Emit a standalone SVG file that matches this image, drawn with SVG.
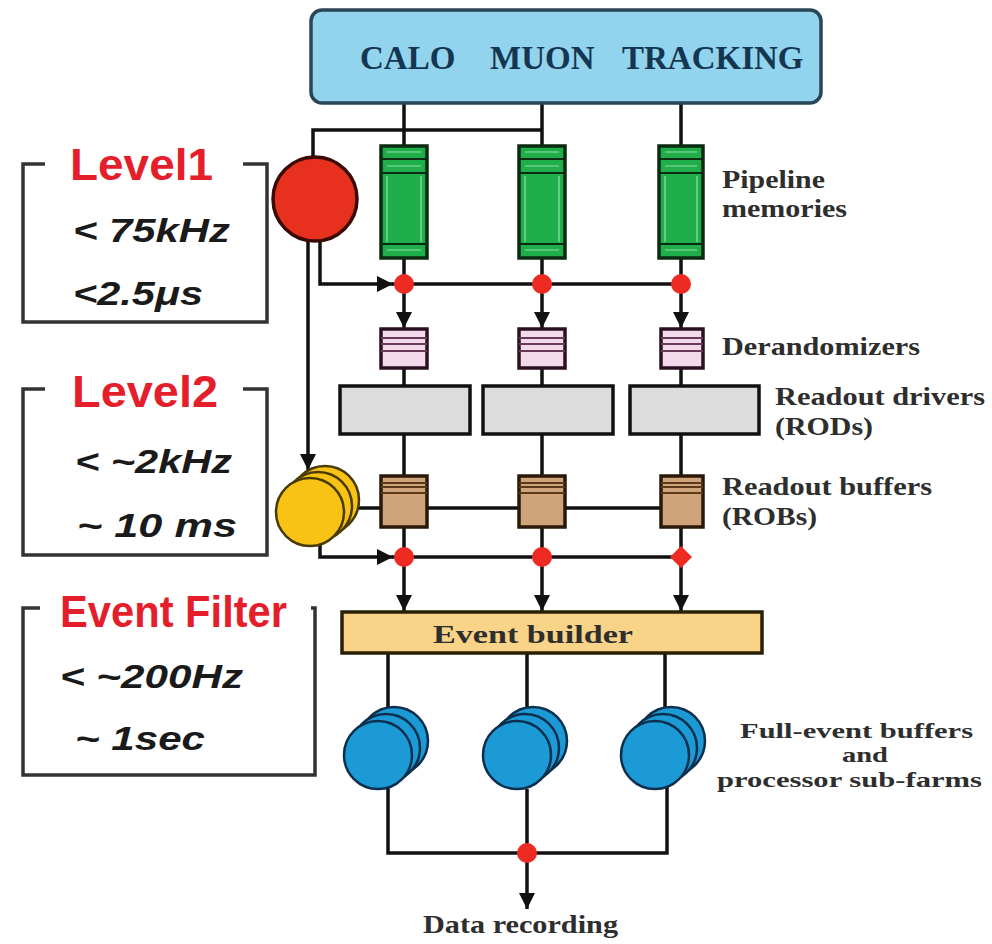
<svg xmlns="http://www.w3.org/2000/svg" width="992" height="944" viewBox="0 0 992 944">
  <style>
    .wire { fill: none; stroke: #111; stroke-width: 3.5; }
    .frame { fill: none; stroke: #333; stroke-width: 3.5; }
    .lbl { font-family: "Liberation Serif", "Times New Roman", serif; font-weight: bold; fill: #2e2e2e; font-size: 26px; }
    .lbl-sm { font-size: 22px; }
    .ttl { font-family: "Liberation Sans", Arial, sans-serif; font-weight: bold; fill: #e41f2b; font-size: 44px; }
    .val { font-family: "Liberation Sans", Arial, sans-serif; font-weight: bold; font-style: italic; fill: #1a1a1a; font-size: 34px; }
    .dot { fill: #ee2b22; }
    .pipe { fill: #1fae4a; stroke: #0b2a12; stroke-width: 3.5; }
    .pipe-line { stroke: #0b2a12; stroke-width: 2; }
    .pipe-hl { stroke: #8fe0a6; stroke-width: 1.2; }
    .derand { fill: #f3d9ea; stroke: #2a1020; stroke-width: 3.5; }
    .derand-line { stroke: #6a3a5a; stroke-width: 2; }
    .rod { fill: #dcdcdc; stroke: #111; stroke-width: 3.5; }
    .rob { fill: #cfa47a; stroke: #2a1808; stroke-width: 3.5; }
    .rob-line { stroke: #5a3a1a; stroke-width: 2; }
    .disc-y { fill: #f8c315; stroke: #4a3a00; stroke-width: 2.5; }
    .disc-b { fill: #1b9ad6; stroke: #0c2f4d; stroke-width: 2.5; }
  </style>
  <defs>
    <marker id="arr" viewBox="0 0 10 10" refX="10" refY="5" markerWidth="18" markerHeight="16" markerUnits="userSpaceOnUse" orient="auto">
      <path d="M0,0 L10,5 L0,10 z" fill="#111"/>
    </marker>
  </defs>

  <rect width="992" height="944" fill="#ffffff"/>

  <!-- connectors -->
  <g id="connectors">
    <!-- detector to pipelines -->
    <path class="wire" d="M404,103 V146 M542,103 V146 M681,103 V146"/>
    <path class="wire" d="M313,157 V130 H542"/>
    <!-- pipelines to level-1 accept bus -->
    <path class="wire" d="M404,258 V284 M542,258 V284 M681,258 V284"/>
    <path class="wire" d="M392,284 H681"/>
    <path class="wire" d="M320,240 V284 H393" marker-end="url(#arr)"/>
    <!-- level-1 to level-2 -->
    <path class="wire" d="M308,241 V470" marker-end="url(#arr)"/>
    <!-- accept bus to derandomizers -->
    <path class="wire" d="M404,292 V328" marker-end="url(#arr)"/>
    <path class="wire" d="M542,292 V328" marker-end="url(#arr)"/>
    <path class="wire" d="M681,292 V328" marker-end="url(#arr)"/>
    <!-- derandomizers to RODs to ROBs -->
    <path class="wire" d="M404,368 V386 M542,368 V386 M681,368 V386"/>
    <path class="wire" d="M404,434 V476 M542,434 V476 M681,434 V476"/>
    <!-- level-2 request bus -->
    <path class="wire" d="M350,508 H681"/>
    <!-- ROBs to level-2 accept bus -->
    <path class="wire" d="M404,527 V557 M542,527 V557 M681,527 V557"/>
    <path class="wire" d="M392,557 H681"/>
    <path class="wire" d="M320,545 V557 H393" marker-end="url(#arr)"/>
    <!-- accept bus to event builder -->
    <path class="wire" d="M404,565 V611" marker-end="url(#arr)"/>
    <path class="wire" d="M542,565 V611" marker-end="url(#arr)"/>
    <path class="wire" d="M681,565 V611" marker-end="url(#arr)"/>
    <!-- event builder to sub-farms -->
    <path class="wire" d="M388,653 V712 M527,653 V712 M665,653 V712"/>
    <!-- sub-farms to recording -->
    <path class="wire" d="M388,785 V853 H667 V785 M527,789 V853"/>
    <path class="wire" d="M527,860 V909" marker-end="url(#arr)"/>
  </g>

  <!-- detector front-ends -->
  <g id="detectors">
    <rect x="311" y="10" width="510" height="93" rx="11" fill="#92d3ee" stroke="#2a4656" stroke-width="3.5"/>
    <text font-family="'Liberation Serif', 'Times New Roman', serif" font-weight="bold" font-size="33" fill="#143650"><tspan x="360" y="69">CALO</tspan><tspan x="490" y="69">MUON</tspan><tspan x="622" y="69">TRACKING</tspan></text>
  </g>

  <!-- level-1 trigger processor -->
  <g id="level1-processor">
    <circle cx="315" cy="199" r="42" fill="#e8301e" stroke="#3a0a05" stroke-width="3.5"/>
  </g>

  <!-- pipeline memories -->
  <g id="pipelines">
    <g transform="translate(381,146)">
      <rect class="pipe" width="46" height="112"/>
      <path class="pipe-hl" d="M6,6 H40 M6,20 H40 M6,104 H40 M6,30 V96 M40,30 V96"/>
      <path class="pipe-line" d="M0,13 H46 M0,27 H46 M0,98 H46"/>
    </g>
    <g transform="translate(519,146)">
      <rect class="pipe" width="46" height="112"/>
      <path class="pipe-hl" d="M6,6 H40 M6,20 H40 M6,104 H40 M6,30 V96 M40,30 V96"/>
      <path class="pipe-line" d="M0,13 H46 M0,27 H46 M0,98 H46"/>
    </g>
    <g transform="translate(659,146)">
      <rect class="pipe" width="44" height="112"/>
      <path class="pipe-hl" d="M6,6 H38 M6,20 H38 M6,104 H38 M6,30 V96 M38,30 V96"/>
      <path class="pipe-line" d="M0,13 H44 M0,27 H44 M0,98 H44"/>
    </g>
    <text class="lbl" x="722" y="188" textLength="103" lengthAdjust="spacingAndGlyphs">Pipeline</text>
    <text class="lbl" x="722" y="217" textLength="125" lengthAdjust="spacingAndGlyphs">memories</text>
  </g>

  <!-- junction dots -->
  <g id="junctions">
    <circle class="dot" cx="404" cy="284" r="10"/>
    <circle class="dot" cx="542" cy="284" r="10"/>
    <circle class="dot" cx="681" cy="284" r="10"/>
    <circle class="dot" cx="404" cy="557" r="10"/>
    <circle class="dot" cx="542" cy="557" r="10"/>
    <path class="dot" d="M681,546 L692,557 L681,568 L670,557 z"/>
    <circle class="dot" cx="527" cy="853" r="10"/>
  </g>

  <!-- derandomizers -->
  <g id="derandomizers">
    <g transform="translate(381,329)">
      <rect class="derand" width="46" height="39"/>
      <path class="derand-line" d="M0,9 H46 M0,15 H46 M0,22 H46"/>
    </g>
    <g transform="translate(519,329)">
      <rect class="derand" width="46" height="39"/>
      <path class="derand-line" d="M0,9 H46 M0,15 H46 M0,22 H46"/>
    </g>
    <g transform="translate(661,329)">
      <rect class="derand" width="42" height="39"/>
      <path class="derand-line" d="M0,9 H42 M0,15 H42 M0,22 H42"/>
    </g>
    <text class="lbl" x="722" y="355" textLength="198" lengthAdjust="spacingAndGlyphs">Derandomizers</text>
  </g>

  <!-- readout drivers -->
  <g id="rods">
    <rect class="rod" x="340" y="386" width="130" height="48"/>
    <rect class="rod" x="483" y="386" width="130" height="48"/>
    <rect class="rod" x="630" y="386" width="129" height="48"/>
    <text class="lbl" x="775" y="405" textLength="210" lengthAdjust="spacingAndGlyphs">Readout drivers</text>
    <text class="lbl" x="775" y="435" textLength="98" lengthAdjust="spacingAndGlyphs">(RODs)</text>
  </g>

  <!-- level-2 processors -->
  <g id="level2-processors">
    <circle class="disc-y" cx="325" cy="500" r="34"/>
    <circle class="disc-y" cx="318" cy="506" r="34"/>
    <circle class="disc-y" cx="310" cy="512" r="34"/>
  </g>

  <!-- readout buffers -->
  <g id="robs">
    <g transform="translate(381,476)">
      <rect class="rob" width="46" height="51"/>
      <path class="rob-line" d="M0,7 H46 M0,11 H46 M0,17 H46"/>
    </g>
    <g transform="translate(519,476)">
      <rect class="rob" width="46" height="51"/>
      <path class="rob-line" d="M0,7 H46 M0,11 H46 M0,17 H46"/>
    </g>
    <g transform="translate(661,476)">
      <rect class="rob" width="42" height="51"/>
      <path class="rob-line" d="M0,7 H42 M0,11 H42 M0,17 H42"/>
    </g>
    <text class="lbl" x="722" y="495" textLength="210" lengthAdjust="spacingAndGlyphs">Readout buffers</text>
    <text class="lbl" x="722" y="525" textLength="95" lengthAdjust="spacingAndGlyphs">(ROBs)</text>
  </g>

  <!-- event builder -->
  <g id="event-builder">
    <rect x="342" y="612" width="420" height="41" fill="#f8d388" stroke="#2a2008" stroke-width="3.5"/>
    <text class="lbl" x="433" y="643" font-size="28" fill="#3a2a10" textLength="200" lengthAdjust="spacingAndGlyphs">Event builder</text>
  </g>

  <!-- processor sub-farms -->
  <g id="subfarm-1">
    <circle class="disc-b" cx="394" cy="741" r="34"/>
    <circle class="disc-b" cx="386" cy="748" r="34"/>
    <circle class="disc-b" cx="378" cy="755" r="34"/>
  </g>
  <g id="subfarm-2">
    <circle class="disc-b" cx="533" cy="741" r="34"/>
    <circle class="disc-b" cx="525" cy="748" r="34"/>
    <circle class="disc-b" cx="517" cy="755" r="34"/>
  </g>
  <g id="subfarm-3">
    <circle class="disc-b" cx="671" cy="741" r="34"/>
    <circle class="disc-b" cx="663" cy="748" r="34"/>
    <circle class="disc-b" cx="655" cy="755" r="34"/>
  </g>
  <g id="subfarm-label">
    <text class="lbl lbl-sm" x="740" y="738" textLength="233" lengthAdjust="spacingAndGlyphs">Full-event buffers</text>
    <text class="lbl lbl-sm" x="842" y="762" textLength="46" lengthAdjust="spacingAndGlyphs">and</text>
    <text class="lbl lbl-sm" x="717" y="787" textLength="265" lengthAdjust="spacingAndGlyphs">processor sub-farms</text>
  </g>

  <!-- data recording -->
  <g id="data-recording">
    <text class="lbl" x="423" y="933" textLength="195" lengthAdjust="spacingAndGlyphs">Data recording</text>
  </g>

  <!-- trigger level panels -->
  <g id="level1-panel">
    <path class="frame" d="M45,164 H23 V322 H267 V164 H243"/>
    <text class="ttl" x="70" y="180" textLength="143" lengthAdjust="spacingAndGlyphs">Level1</text>
    <text class="val" x="73" y="242" textLength="157" lengthAdjust="spacingAndGlyphs">&lt; 75kHz</text>
    <text class="val" x="73" y="305" textLength="130" lengthAdjust="spacingAndGlyphs">&lt;2.5μs</text>
  </g>
  <g id="level2-panel">
    <path class="frame" d="M45,389 H23 V555 H267 V389 H243"/>
    <text class="ttl" x="72" y="407" textLength="146" lengthAdjust="spacingAndGlyphs">Level2</text>
    <text class="val" x="75" y="473" textLength="157" lengthAdjust="spacingAndGlyphs">&lt; ~2kHz</text>
    <text class="val" x="77" y="537" textLength="160" lengthAdjust="spacingAndGlyphs">~ 10 ms</text>
  </g>
  <g id="event-filter-panel">
    <path class="frame" d="M40,608 H23 V775 H315 V608 H311"/>
    <text class="ttl" x="60" y="627" font-size="40" textLength="227" lengthAdjust="spacingAndGlyphs">Event Filter</text>
    <text class="val" x="60" y="688" textLength="183" lengthAdjust="spacingAndGlyphs">&lt; ~200Hz</text>
    <text class="val" x="75" y="750" textLength="130" lengthAdjust="spacingAndGlyphs">~ 1sec</text>
  </g>
</svg>
